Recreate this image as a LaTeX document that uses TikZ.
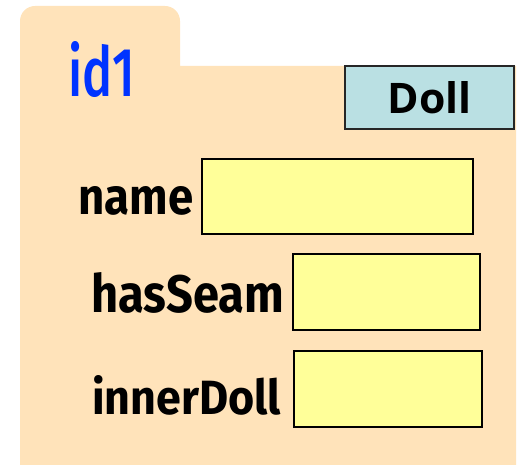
\documentclass[tikz,border=0pt]{standalone}
\usepackage{fontspec}
\usepackage{graphicx}
\newfontfamily\labelfont{Fira Sans}[UprightFont=* Bold]
\newfontfamily\idfont{Fira Sans}[UprightFont=* Medium]
\newfontfamily\classfont{Open Sans}[UprightFont=* Bold]
\definecolor{objpeach}{RGB}{255,227,186}
\definecolor{slotyellow}{RGB}{255,255,153}
\definecolor{classblue}{RGB}{186,224,227}
\definecolor{idblue}{RGB}{0,51,255}
% fit a text to a given width and glyph height
\newcommand\fittext[3]{\resizebox{#1}{#2}{#3}}
\begin{document}
\begin{tikzpicture}[x=1pt,y=1pt,
  slot/.style={draw=black, line width=2pt, fill=slotyellow, inner sep=0pt},
  classbox/.style={draw=black!85, line width=2pt, fill=classblue, inner sep=0pt},
  fieldlabel/.style={inner sep=0pt, anchor=base west, text=black, font=\labelfont},
]
\useasboundingbox (0,0) rectangle (519,465);
% object outline with tab
\fill[objpeach] (20,0) -- (20,444) arc[start angle=180, end angle=90, radius=15]
  -- (165,459) arc[start angle=90, end angle=0, radius=15]
  -- (180,399) -- (516,399) -- (516,0) -- cycle;
% object id
\node[inner sep=0pt, anchor=base west, text=idblue, font=\idfont] (id) at (68,368)
  {\fittext{67pt}{55pt}{id1}};
% class name
\node[classbox, minimum width=169pt, minimum height=63pt] (cls) at (429.5,367.5)
  {\classfont\fittext{84pt}{32pt}{Doll}};
% field slots
\node[slot, minimum width=271pt, minimum height=75pt] (nameslot) at (337.5,268.5) {};
\node[slot, minimum width=187pt, minimum height=76pt] (seamslot) at (386.5,173) {};
\node[slot, minimum width=188pt, minimum height=76pt] (dollslot) at (388,76) {};
% field names
\node[fieldlabel] (namelbl) at (78,250) {\fittext{115pt}{28pt}{name}};
\node[fieldlabel] (seamlbl) at (91,152) {\fittext{193pt}{40pt}{hasSeam}};
\node[fieldlabel] (dolllbl) at (92,50) {\fittext{189pt}{39pt}{innerDoll}};
\end{tikzpicture}
\end{document}
